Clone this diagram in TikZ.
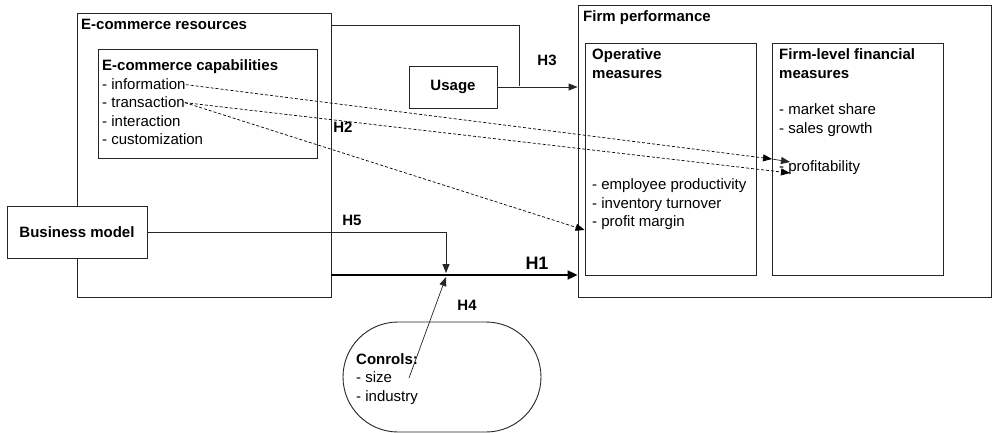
\documentclass[tikz,border=0pt]{standalone}
\usepackage{fontspec}
\setmainfont{Liberation Sans}
\usetikzlibrary{arrows.meta}
\begin{document}
\begin{tikzpicture}[x=1pt,y=-1pt,
  font=\fontsize{15}{18}\selectfont,
  box/.style={draw=black!85, line width=0.9pt, fill=white, inner sep=0pt},
  lbl/.style={inner sep=0pt, anchor=base west},
  blbl/.style={inner sep=0pt, anchor=base west, font=\fontsize{15}{18}\selectfont\bfseries},
  hyp/.style={inner sep=0pt, font=\fontsize{15}{18}\selectfont\bfseries},
  conn/.style={draw=black!85, line width=0.9pt},
  arr/.style={conn, -{Triangle[length=9pt,width=7pt]}},
  darr/.style={draw=black, line width=0.7pt, dash pattern=on 3pt off 2pt, -{Triangle[length=9pt,width=7pt]}},
  thick arr/.style={draw=black, line width=2pt, -{Triangle[length=10pt,width=9pt]}}
]
\useasboundingbox (0,0) rectangle (995,433);

% containers
\node[box, minimum width=254pt, minimum height=284pt] (ecr) at (204,155) {};
\node[box, minimum width=413pt, minimum height=292pt] (fp) at (784.5,151.5) {};
\node[box, minimum width=219pt, minimum height=109pt] (cap) at (207.5,103.5) {};
\node[box, minimum width=171pt, minimum height=232pt] (op) at (670.5,159) {};
\node[box, minimum width=171pt, minimum height=232pt] (fin) at (857.5,159) {};
\node[box, minimum width=88pt, minimum height=42pt, font=\fontsize{15}{18}\selectfont\bfseries] (usage) at (453,87) {Usage};
\node[box, minimum width=140pt, minimum height=52pt, font=\fontsize{15}{18}\selectfont\bfseries] (bm) at (77,232) {Business model};
\node[box, minimum width=198pt, minimum height=110pt, rounded corners=55pt] (ctrl) at (442,377) {};

% titles and items
\node[blbl] (ecrt) at (81,30) {E-commerce resources};
\node[blbl] (capt) at (102,71) {E-commerce capabilities};
\node[lbl] (info) at (102,90) {- information};
\node[lbl] (trans) at (102,108) {- transaction};
\node[lbl] (inter) at (102,126) {- interaction};
\node[lbl] (cust) at (102,144) {- customization};

\node[blbl] (fpt) at (583,22) {Firm performance};
\node[blbl] (opt1) at (592,60) {Operative};
\node[blbl] (opt2) at (592,79) {measures};
\node[lbl] (op1) at (592,189) {- employee productivity};
\node[lbl] (op2) at (592,208) {- inventory turnover};
\node[lbl] (op3) at (592,226) {- profit margin};

\node[blbl] (fint1) at (779,60) {Firm-level financial};
\node[blbl] (fint2) at (779,79) {measures};
\node[lbl] (fin1) at (779,115) {- market share};
\node[lbl] (fin2) at (779,133) {- sales growth};
\node[lbl] (fin3) at (779,171) {- profitability};

\node[blbl] (ct) at (356,364) {Conrols:};
\node[lbl] (c1) at (356,382) {- size};
\node[lbl] (c2) at (356,401) {- industry};

% hypothesis labels
\node[hyp] (h3) at (547,60) {H3};
\node[hyp] (h2) at (343,127) {H2};
\node[hyp] (h5) at (352,220) {H5};
\node[hyp] (h4) at (467,305) {H4};
\node[hyp, font=\fontsize{18}{20}\selectfont\bfseries] (h1) at (537,263) {H1};

% coordinates
\coordinate (h3c) at (519,86);
\coordinate (pr1) at (772,159);
\coordinate (pr2) at (790,162);
\coordinate (pr3) at (790,173);
\coordinate (jn) at (446,273);
\coordinate (jn2) at (446,277);
\coordinate (h4s) at (409,378);

% connectors
\draw[conn] ([yshift=-13pt]ecr.north east) -| (h3c);
\draw[arr] (usage.east) -- (usage.east -| fp.west);
\draw[darr] (info.east) -- (pr1);
\draw[arr, line width=0.7pt] (pr1) -- (pr2);
\draw[darr] (trans.east) -- (pr3);
\draw[darr] (trans.east) -- ([yshift=-71pt]op.west);
\draw[arr] (bm.east) -| (jn);
\draw[thick arr] ([yshift=-120pt]ecr.east) -- ([yshift=-123.5pt]fp.west);
\draw[arr, line width=0.7pt] (h4s) -- (jn2);
\end{tikzpicture}
\end{document}
